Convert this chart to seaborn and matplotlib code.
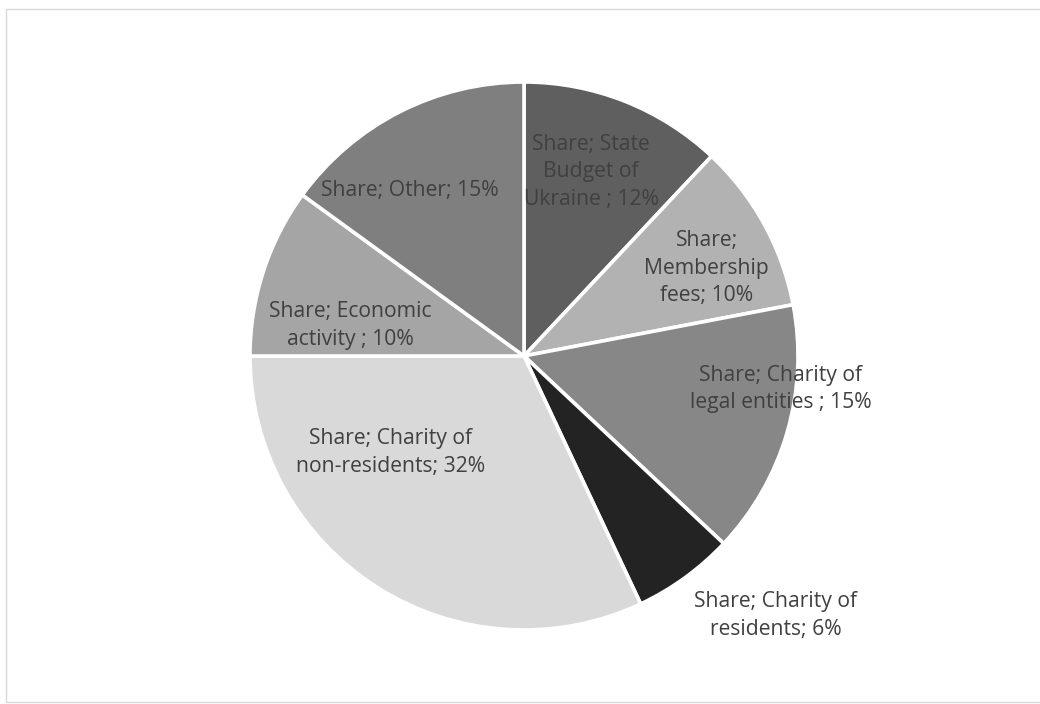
import matplotlib
matplotlib.use("Agg")
import matplotlib.pyplot as plt
import seaborn as sns
import numpy as np
from matplotlib.patches import Rectangle

# Funding sources, clockwise from 12 o'clock
categories = [
    "State Budget of\nUkraine ",
    "Membership\nfees",
    "Charity of\nlegal entities ",
    "Charity of\nresidents",
    "Charity of\nnon-residents",
    "Economic\nactivity ",
    "Other",
]
shares = [12, 10, 15, 6, 32, 10, 15]
series_name = "Share"

label_texts = [
    "Share; State\nBudget of\nUkraine ; 12%",
    "Share;\nMembership\nfees; 10%",
    "Share; Charity of\nlegal entities ; 15%",
    "Share; Charity of\nresidents; 6%",
    "Share; Charity of\nnon-residents; 32%",
    "Share; Economic\nactivity ; 10%",
    "Share; Other; 15%",
]

colors = ["#5f5f5f", "#b2b2b2", "#878787", "#232323", "#d9d9d9", "#a5a5a5", "#7f7f7f"]

# label placement: (angle in degrees, distance as fraction of radius)
label_pos = [(70, 0.715), (25.7, 0.74), (-7.3, 0.945), (-45.9, 1.318),
             (-144, 0.60), (170, 0.645), (124.5, 0.735)]

sns.set_theme(style="white")
plt.rcParams["font.family"] = ["Open Sans", "DejaVu Sans"]

W, H = 1040, 704
fig = plt.figure(figsize=(W / 100, H / 100), dpi=100)
fig.patch.set_facecolor("white")

cx, cy, r = 524, 356, 274
ax = fig.add_axes([(cx - r) / W, (H - cy - r) / H, 2 * r / W, 2 * r / H])

ax.pie(shares, colors=colors, startangle=90, counterclock=False, radius=1,
       wedgeprops=dict(edgecolor="white", linewidth=2.6), frame=False)
ax.set_xlim(-1, 1)
ax.set_ylim(-1, 1)
ax.set_aspect("equal")
ax.axis("off")

for txt, (ang, dist) in zip(label_texts, label_pos):
    a = np.deg2rad(ang)
    ax.text(dist * np.cos(a), dist * np.sin(a), txt, ha="center", va="center",
            fontsize=15.2, color="#404040", linespacing=1.42, clip_on=False)

# chart area border
fig.add_artist(Rectangle((6 / W, 2 / H), 1.2, (702 - 9) / H,
                         transform=fig.transFigure, fill=False,
                         edgecolor="#d9d9d9", linewidth=1.0))

fig.savefig("out.png", dpi=100, facecolor="white")
